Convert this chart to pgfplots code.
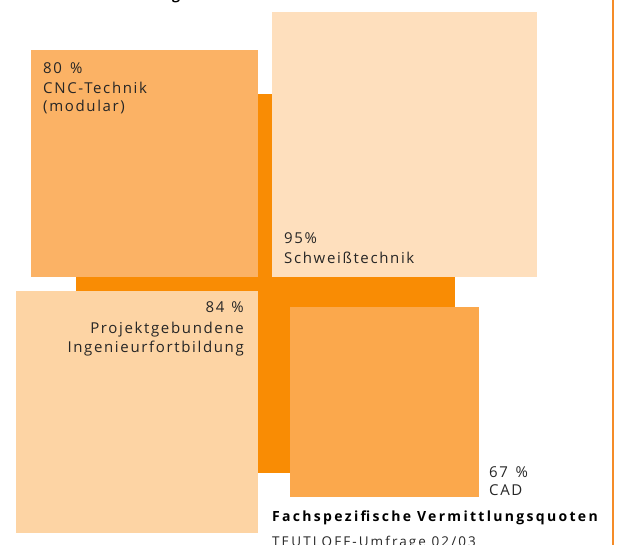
\documentclass[border=0pt]{standalone}
\usepackage{pgfplots}
\pgfplotsset{compat=1.18}
\usepackage{fontspec}
\setmainfont{Open Sans}
\newfontfamily\lab[LetterSpace=11]{Open Sans}
\newfontfamily\titb[LetterSpace=16.5]{Open Sans Bold}
\newfontfamily\titr[LetterSpace=15.5]{Open Sans}
\definecolor{cnc}{RGB}{251,178,101}
\definecolor{sw}{RGB}{254,223,189}
\definecolor{pj}{RGB}{253,212,164}
\definecolor{cad}{RGB}{251,168,76}
\definecolor{dark}{RGB}{249,140,4}
\definecolor{txt}{RGB}{38,38,38}
\definecolor{vline}{RGB}{245,140,40}
\begin{document}
\begin{tikzpicture}
\begin{axis}[scale only axis, width=619pt, height=545pt,
  xmin=0, xmax=619, ymin=0, ymax=545, y dir=reverse,
  hide axis, clip=false]
% dark background square
\addplot[fill=dark, draw=none] coordinates {(76,94) (455,94) (455,473) (76,473)};
% CNC-Technik 80 %
\addplot[fill=cnc, draw=none] coordinates {(31,50) (258,50) (258,277) (31,277)};
% Schweisstechnik 95 %
\addplot[fill=sw, draw=none] coordinates {(272,12) (537,12) (537,277) (272,277)};
% Projektgebundene Ingenieurfortbildung 84 %
\addplot[fill=pj, draw=none] coordinates {(16,291) (258,291) (258,533) (16,533)};
% CAD 67 %
\addplot[fill=cad, draw=none] coordinates {(290,307) (479,307) (479,497) (290,497)};
% right rule
\addplot[draw=vline, line width=1.2pt] coordinates {(613,0) (613,545)};

\tikzset{lb/.style={anchor=base west, inner sep=0pt, text=txt, font=\lab\fontsize{15}{18}\selectfont},
         lbr/.style={lb, anchor=base east}}
\node[lb] at (axis cs:43,74) {80 \kern2.5pt\%};
\node[lb] at (axis cs:43,94) {CNC-Technik};
\node[lb] at (axis cs:43,112) {(modular)};
\node[lb] at (axis cs:284,244) {95\%};
\node[lb] at (axis cs:284,264) {Schweißtechnik};
\node[lbr] at (axis cs:244,313) {84 \kern1.5pt\%};
\node[lbr] at (axis cs:244,334) {Projektgebundene};
\node[lbr] at (axis cs:244,353) {Ingenieurfortbildung};
\node[lb] at (axis cs:489,477) {67 \kern2pt\%};
\node[lb] at (axis cs:489,496) {CAD};
\node[anchor=base west, inner sep=0pt, text=black, font=\titb\fontsize{14}{16}\selectfont] at (axis cs:272,521) {Fachspezifische Vermittlungsquoten};
\node[anchor=base west, inner sep=0pt, text=txt, font=\titr\fontsize{13.5}{16}\selectfont] at (axis cs:272,546.5) {TEUTLOFF-Umfrage 02/03};
\node[anchor=base west, inner sep=0pt, text=black, font=\titb\fontsize{14}{16}\selectfont] at (axis cs:172,-0.5) {g};
\end{axis}
\pgfresetboundingbox
\useasboundingbox (current axis.south west) rectangle (current axis.north east);
\end{tikzpicture}
\end{document}
